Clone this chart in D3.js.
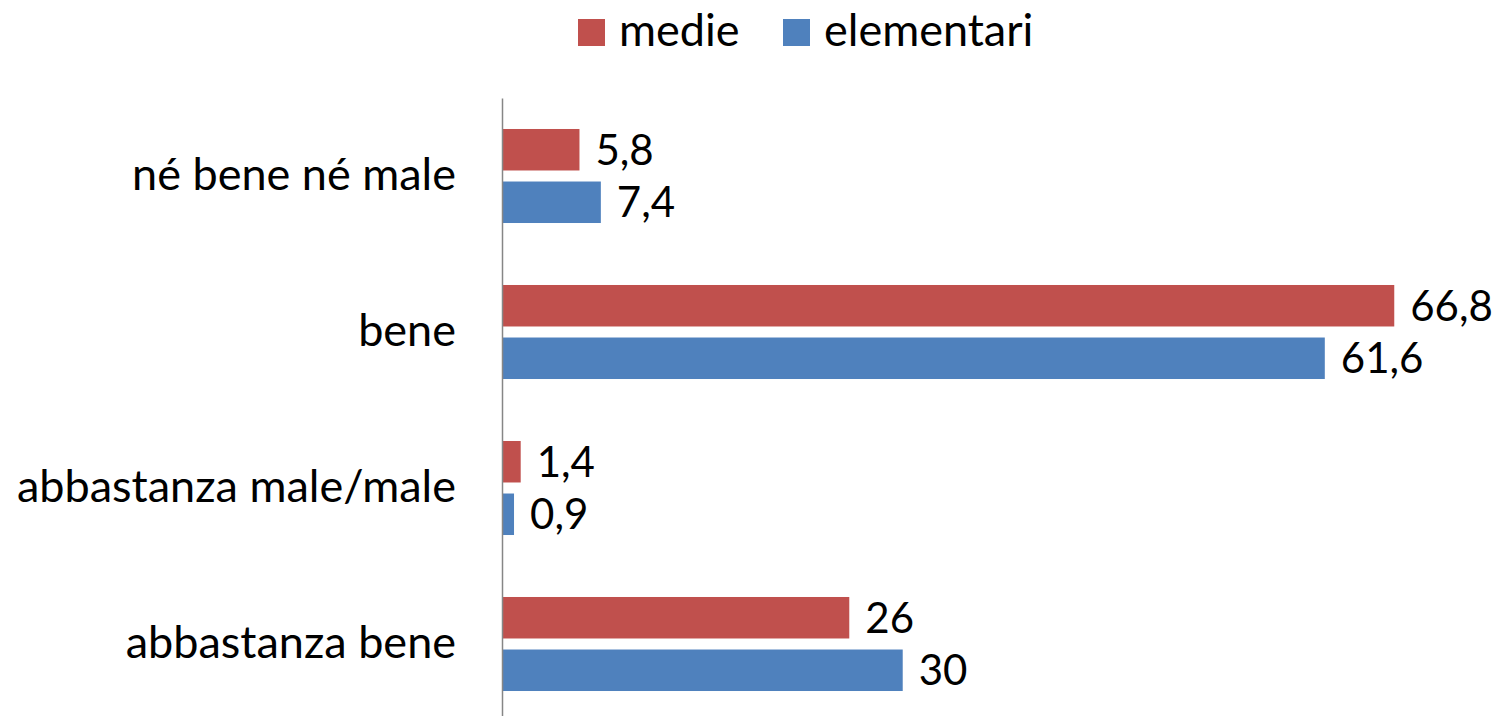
<!DOCTYPE html>
<html><head><meta charset="utf-8">
<script src="https://cdn.jsdelivr.net/npm/d3@7"></script>
<style>body{margin:0;background:#fff}svg{display:block}text{font-family:Lato,"Open Sans",sans-serif;fill:#000}</style>
</head><body><svg id="c" width="1499" height="716"></svg>
<script>
const categories = ["né bene né male", "bene", "abbastanza male/male", "abbastanza bene"];
const seriesNames = ["medie", "elementari"];
const medie = [5.8, 66.8, 1.4, 26];
const elementari = [7.4, 61.6, 0.9, 30];
const colors = ["#C0504D", "#4F81BD"];

const svg = d3.select("#c");
const FS = 42, FS_CAT = 45;
const x = d3.scaleLinear().domain([0, 70]).range([502, 1437]);
const y0 = d3.scaleBand().domain(categories).range([98, 722]).padding(0);
const y1 = d3.scaleBand().domain(seriesNames).range([0, y0.bandwidth()]).paddingInner(0.21).paddingOuter(0.59);
const fmt = v => String(v).replace(".", ",");

const rows = categories.map((c, i) => ({cat: c, vals: [
  {s: seriesNames[0], v: medie[i], col: colors[0]},
  {s: seriesNames[1], v: elementari[i], col: colors[1]}]}));

const g = svg.selectAll("g.cat").data(rows).join("g").attr("class","cat")
  .attr("transform", d => `translate(0,${y0(d.cat)})`);
g.selectAll("rect").data(d => d.vals).join("rect")
  .attr("x", x(0)).attr("y", d => y1(d.s))
  .attr("width", d => x(d.v) - x(0)).attr("height", y1.bandwidth())
  .attr("fill", d => d.col);
g.selectAll("text.lbl").data(d => d.vals).join("text").attr("class","lbl")
  .attr("x", d => x(d.v) + 16).attr("y", d => y1(d.s) + y1.bandwidth()/2)
  .attr("dy", "0.36em").style("font-size", FS + "px").text(d => fmt(d.v));

// category axis
const ax = svg.append("g").attr("transform", `translate(${x(0)},0)`)
  .call(d3.axisLeft(y0).tickSize(0).tickPadding(46));
ax.select(".domain").attr("stroke", "#868686").attr("stroke-width", 1.5);
ax.selectAll("text").style("font-size", FS_CAT + "px").style("font-family", "Lato, 'Open Sans', sans-serif").attr("fill", "#000");

// legend
const legX = [578, 783];
const leg = svg.selectAll("g.leg").data(seriesNames).join("g").attr("class","leg")
  .attr("transform", (d, i) => `translate(${legX[i]},19)`);
leg.append("rect").attr("width", 27).attr("height", 27).attr("fill", (d, i) => colors[i]);
leg.append("text").attr("x", 41).attr("y", 27).style("font-size", FS_CAT + "px").text(d => d);
</script></body></html>
